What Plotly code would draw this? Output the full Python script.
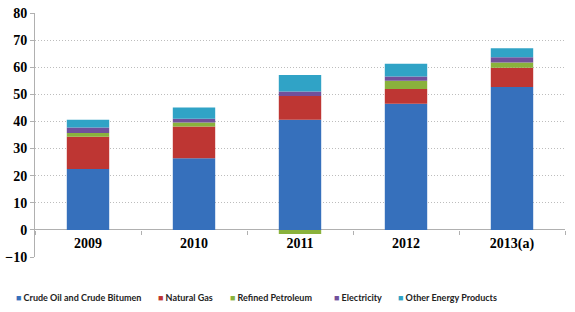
import plotly.graph_objects as go

years = ["2009", "2010", "2011", "2012", "2013(a)"]
crude_oil = [22.5, 26.4, 40.6, 46.5, 52.7]
natural_gas = [11.9, 11.7, 8.8, 5.5, 7.1]
refined_petroleum = [1.3, 1.5, -1.5, 3.0, 1.9]
electricity = [2.1, 1.4, 1.6, 1.6, 2.0]
other_energy = [2.8, 4.1, 6.1, 4.7, 3.3]

series = [
    ("Crude Oil and Crude Bitumen", crude_oil, "#3670BC"),
    ("Natural Gas", natural_gas, "#BE3633"),
    ("Refined Petroleum", refined_petroleum, "#8AB23C"),
    ("Electricity", electricity, "#71509B"),
    ("Other Energy Products", other_energy, "#30A3C6"),
]
# x position (paper) of each legend entry
legend_x = [-0.04, 0.228, 0.364, 0.561, 0.681]

fig = go.Figure()
for name, vals, col in series:
    fig.add_trace(go.Bar(
        x=years, y=vals, name=name,
        marker=dict(color=col, line=dict(width=0)),
        width=0.4, showlegend=False,
    ))

# legend drawn as text so the entries sit close together like the original
for (name, vals, col), lx in zip(series, legend_x):
    fig.add_annotation(
        x=lx, y=-0.168, xref="paper", yref="paper",
        xanchor="left", yanchor="middle", showarrow=False,
        text=f"<span style='color:{col}'>■</span> {name}",
        font=dict(family="Lato", size=9, color="#222", weight="bold"),
    )

fig.update_layout(
    barmode="relative",
    width=575, height=312,
    margin=dict(l=35, r=10, t=13, b=55, autoexpand=False),
    plot_bgcolor="white", paper_bgcolor="white",
)

fig.update_yaxes(
    range=[-10, 80], dtick=10,
    showgrid=True, gridcolor="#BDBDBD", griddash="1px,2px", gridwidth=1,
    zeroline=True, zerolinecolor="#B0B0B0", zerolinewidth=1,
    showline=True, linecolor="#B0B0B0",
    ticks="outside", ticklen=4, tickcolor="#B0B0B0",
    ticklabeloverflow="allow",
    tickfont=dict(family="Liberation Serif", size=14, color="black", weight="bold"),
)

fig.update_xaxes(
    anchor="free", position=27 / 244,
    showline=False, showgrid=False,
    ticks="outside", tickson="boundaries", ticklen=4, tickcolor="#B0B0B0",
    ticklabelstandoff=3,
    tickfont=dict(family="Liberation Serif", size=14, color="black", weight="bold"),
)

# drop the default 8px page margin so the figure fills the window
fig.write_html("out.html", config={"displayModeBar": False},
               post_script="document.body.style.margin='0';")
